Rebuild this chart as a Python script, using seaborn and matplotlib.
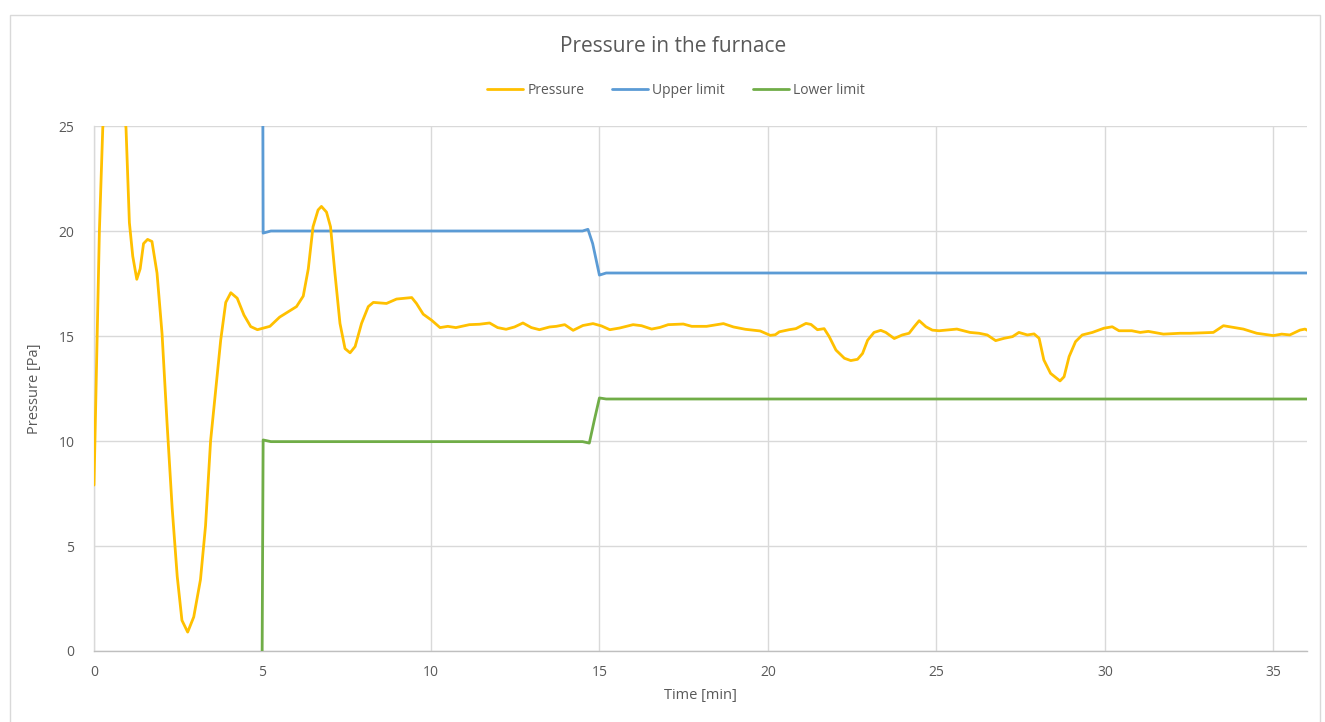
import numpy as np
import pandas as pd
import matplotlib
matplotlib.use("Agg")
import matplotlib.pyplot as plt
import seaborn as sns
from matplotlib.lines import Line2D

# ---------------- data ----------------
p_time = [0.0, 0.08, 0.16, 0.26, 0.4, 0.6, 0.8, 0.95, 1.05, 1.15, 1.27, 1.37, 1.47, 1.59,
          1.72, 1.87, 2.02, 2.17, 2.32, 2.47, 2.61, 2.78, 2.96, 3.16, 3.31, 3.46, 3.61,
          3.76, 3.91, 4.06, 4.25, 4.45, 4.65, 4.85, 5.22, 5.51, 5.81, 6.01, 6.21, 6.36,
          6.5, 6.65, 6.75, 6.9, 7.02, 7.15, 7.3, 7.45, 7.6, 7.75, 7.94, 8.14, 8.29,
          8.68, 8.98, 9.43, 9.57, 9.77, 10.02, 10.27, 10.5, 10.74, 11.14, 11.44, 11.74,
          11.98, 12.23, 12.48, 12.73, 12.98, 13.22, 13.52, 13.72, 13.97, 14.22, 14.51,
          14.81, 15.06, 15.31, 15.6, 16.0, 16.25, 16.55, 16.8, 17.04, 17.49, 17.74,
          18.18, 18.68, 18.98, 19.33, 19.77, 20.07, 20.22, 20.34, 20.63, 20.83, 21.13,
          21.28, 21.47, 21.67, 21.82, 22.02, 22.27, 22.46, 22.66, 22.81, 22.96, 23.15,
          23.35, 23.5, 23.75, 23.99, 24.19, 24.34, 24.49, 24.69, 24.88, 25.08, 25.61,
          26.0, 26.27, 26.51, 26.76, 27.01, 27.26, 27.45, 27.7, 27.9, 28.05, 28.19,
          28.39, 28.67, 28.79, 28.94, 29.13, 29.33, 29.63, 29.97, 30.22, 30.42, 30.8,
          31.05, 31.29, 31.74, 32.23, 32.53, 33.22, 33.52, 33.82, 34.11, 34.51, 35.0,
          35.25, 35.49, 35.79, 35.94, 36.04]
p_value = [7.9, 14.0, 20.0, 24.9, 27.5, 28.5, 27.0, 24.9, 20.4, 18.8, 17.7, 18.2, 19.4, 19.6,
           19.5, 18.0, 15.1, 10.8, 6.8, 3.55, 1.46, 0.9, 1.62, 3.4, 5.96, 10.0, 12.4,
           14.8, 16.6, 17.06, 16.8, 16.0, 15.45, 15.3, 15.46, 15.9, 16.2, 16.4, 16.9, 18.2,
           20.2, 21.0, 21.17, 20.9, 20.2, 18.0, 15.6, 14.4, 14.2, 14.5, 15.6, 16.4, 16.6,
           16.55, 16.76, 16.83, 16.55, 16.04, 15.75, 15.4, 15.46, 15.4, 15.54, 15.56, 15.62,
           15.4, 15.32, 15.43, 15.62, 15.4, 15.3, 15.43, 15.46, 15.54, 15.27, 15.5,
           15.59, 15.48, 15.3, 15.38, 15.54, 15.49, 15.33, 15.41, 15.54, 15.57, 15.46,
           15.46, 15.59, 15.43, 15.32, 15.24, 15.03, 15.06, 15.2, 15.3, 15.35, 15.6,
           15.55, 15.3, 15.35, 14.97, 14.33, 13.94, 13.83, 13.89, 14.17, 14.8, 15.17,
           15.27, 15.17, 14.88, 15.05, 15.13, 15.44, 15.73, 15.44, 15.28, 15.25, 15.33,
           15.17, 15.13, 15.05, 14.78, 14.89, 14.97, 15.17, 15.05, 15.1, 14.89, 13.86,
           13.22, 12.86, 13.06, 14.02, 14.73, 15.05, 15.17, 15.37, 15.44, 15.25, 15.25,
           15.17, 15.22, 15.09, 15.13, 15.13, 15.17, 15.49, 15.41, 15.33, 15.13, 15.02,
           15.09, 15.05, 15.28, 15.33, 15.25]

u_time = [4.99, 5.02, 5.25, 14.5, 14.66, 14.8, 15.0, 15.2, 36.0]
u_value = [40.0, 19.9, 20.0, 20.0, 20.08, 19.4, 17.9, 18.0, 18.0]

l_time = [4.99, 5.02, 5.25, 14.5, 14.7, 14.85, 15.0, 15.2, 36.0]
l_value = [0.0, 10.05, 9.97, 9.97, 9.9, 11.0, 12.05, 12.0, 12.0]

x_ticks = [0, 5, 10, 15, 20, 25, 30, 35]
y_ticks = [0, 5, 10, 15, 20, 25]

title = "Pressure in the furnace"
series_names = ["Pressure", "Upper limit", "Lower limit"]
colors = ["#FFC000", "#5B9BD5", "#70AD47"]

# ---------------- plot ----------------
sns.set_theme(style="white")
plt.rcParams["font.family"] = ["Open Sans", "DejaVu Sans"]

W, H = 1325, 722
fig = plt.figure(figsize=(W / 100, H / 100), dpi=100)
ax = fig.add_axes([94 / W, 1 - 651 / H, (1307 - 94) / W, (651 - 126) / H])

grey_txt = "#595959"
grid_c = "#D9D9D9"

df_p = pd.DataFrame({"t": p_time, "v": p_value})
df_u = pd.DataFrame({"t": u_time, "v": u_value})
df_l = pd.DataFrame({"t": l_time, "v": l_value})

lw = 2.0
style = dict(solid_joinstyle="round", solid_capstyle="round")
sns.lineplot(data=df_u, x="t", y="v", ax=ax, color=colors[1], lw=lw, sort=False,
             estimator=None, zorder=3, **style)
sns.lineplot(data=df_l, x="t", y="v", ax=ax, color=colors[2], lw=lw, sort=False,
             estimator=None, zorder=3, **style)
sns.lineplot(data=df_p, x="t", y="v", ax=ax, color=colors[0], lw=lw, sort=False,
             estimator=None, zorder=4, **style)

ax.set_xlim(0, 36)
ax.set_ylim(0, 25)
ax.set_xticks(x_ticks)
ax.set_yticks(y_ticks)
ax.grid(True, color=grid_c, lw=1.0)
ax.set_axisbelow(True)
for s in ["top", "right"]:
    ax.spines[s].set_visible(False)
ax.spines["left"].set_color(grid_c)
ax.spines["bottom"].set_color("#BFBFBF")
ax.spines["left"].set_linewidth(1.0)
ax.spines["bottom"].set_linewidth(1.0)
ax.tick_params(axis="both", length=0, labelsize=10, colors=grey_txt, pad=10)
ax.tick_params(axis="y", pad=14)

ax.set_xlabel("Time [min]", fontsize=10.5, color=grey_txt, labelpad=6)
ax.set_ylabel("Pressure [Pa]", fontsize=10.5, color=grey_txt, labelpad=12)

fig.text(673 / W, 1 - 47 / H, title, ha="center", va="center", fontsize=15,
         color=grey_txt)

handles = [Line2D([0], [0], color=c, lw=lw) for c in colors]
fig.legend(handles, series_names, loc="center", bbox_to_anchor=(676 / W, 1 - 90 / H),
           ncol=3, frameon=False, fontsize=10, labelcolor=grey_txt,
           handlelength=2.6, handletextpad=0.3, columnspacing=2.0)

# outer chart border
border = plt.Rectangle((10 / W, -0.01), (1320 - 10) / W, 1 - 15 / H + 0.01,
                       transform=fig.transFigure, fill=False, ec="#D9D9D9", lw=1.0)
fig.add_artist(border)

fig.savefig("out.png", dpi=100)
